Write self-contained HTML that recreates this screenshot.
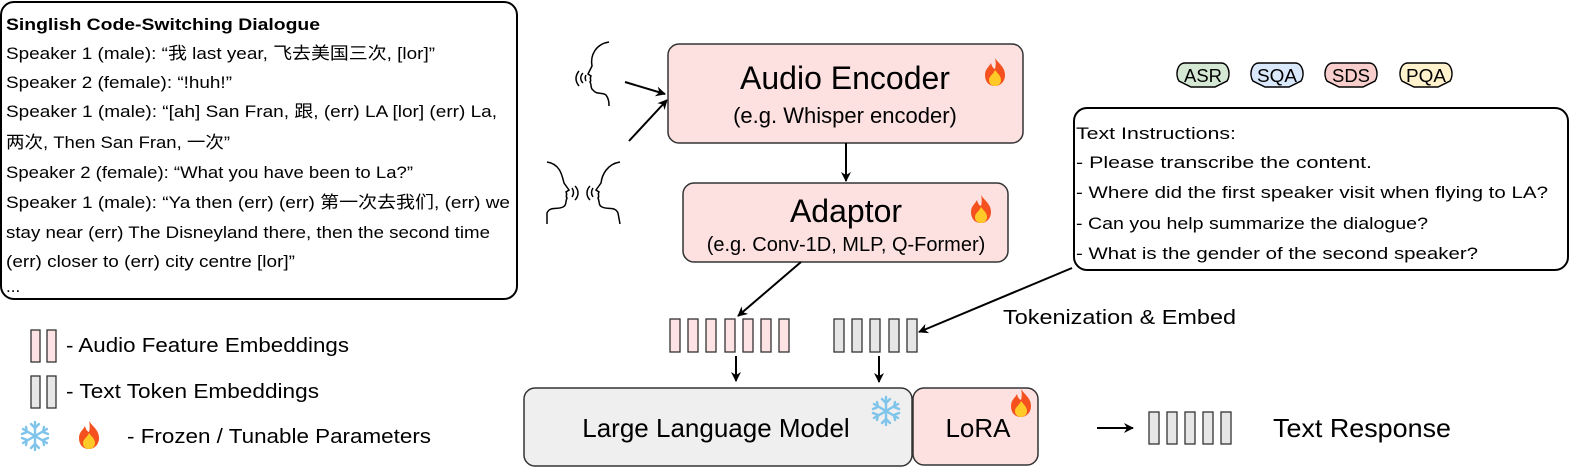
<!DOCTYPE html>
<html><head><meta charset="utf-8"><style>
html,body{margin:0;padding:0;background:#fff;}
svg text{font-family:"Liberation Sans","Noto Sans CJK SC",sans-serif;fill:#000;}
</style></head><body>
<svg width="1578" height="469" viewBox="0 0 1578 469" xmlns="http://www.w3.org/2000/svg">
<defs>
<marker id="ah" markerWidth="10" markerHeight="10" refX="9" refY="5" orient="auto" markerUnits="userSpaceOnUse" viewBox="0 0 10 10"><path d="M0,0 L10,5 L0,10 L3,5 z" fill="#000"/></marker>
<g id="fire"><path d="M0,-14 C4,-8 10,-5 10,3 C10,10 5,14 0,14 C-6,14 -10,10 -10,3 C-10,-3 -6,-5 -4,-9 C-3,-5 -2,-4 0,-3 C1,-7 1,-10 0,-14z" fill="#f4511e"/><path d="M0,-2 C3,2 6,4 6,8 C6,12 3,14 0,14 C-3,14 -6,12 -6,8 C-6,4 -2,3 0,-2z" fill="#ffca28"/></g>
<g id="snow" stroke="#7fc4ea" stroke-width="2.4" stroke-linecap="round" fill="none"><path d="M0,-14V14M-12,-7L12,7M-12,7L12,-7M-4,-12L0,-8L4,-12M-4,12L0,8L4,12M-13,-2L-8,-4L-9,-9M13,2L8,4L9,9M-13,2L-8,4L-9,9M13,-2L8,-4L9,-9"/></g>
<g id="badge"><path d="M-18,-12 H18 C26,-12 28,0 24,6 L12,12 H-12 L-24,6 C-28,0 -26,-12 -18,-12z" stroke="#000" stroke-width="1.5"/></g>
</defs>

<!-- dialogue box -->
<rect x="1" y="2" width="516" height="297" rx="13" fill="#fff" stroke="#000" stroke-width="2"/>
<g font-size="17">
<text x="6" y="30" font-weight="bold" textLength="314" lengthAdjust="spacingAndGlyphs">Singlish Code-Switching Dialogue</text>
<text x="6" y="59" textLength="429" lengthAdjust="spacingAndGlyphs">Speaker 1 (male): “我 last year, 飞去美国三次, [lor]”</text>
<text x="6" y="88" textLength="226" lengthAdjust="spacingAndGlyphs">Speaker 2 (female): “!huh!”</text>
<text x="6" y="117" textLength="491" lengthAdjust="spacingAndGlyphs">Speaker 1 (male): “[ah] San Fran, 跟, (err) LA [lor] (err) La,</text>
<text x="6" y="148" textLength="224" lengthAdjust="spacingAndGlyphs">两次, Then San Fran, 一次”</text>
<text x="6" y="178" textLength="407" lengthAdjust="spacingAndGlyphs">Speaker 2 (female): “What you have been to La?”</text>
<text x="6" y="208" textLength="504" lengthAdjust="spacingAndGlyphs">Speaker 1 (male): “Ya then (err) (err) 第一次去我们, (err) we</text>
<text x="6" y="238" textLength="484" lengthAdjust="spacingAndGlyphs">stay near (err) The Disneyland there, then the second time</text>
<text x="6" y="267" textLength="289" lengthAdjust="spacingAndGlyphs">(err) closer to (err) city centre [lor]”</text>
<text x="6" y="292">...</text>
</g>

<!-- legend -->
<g stroke="#333" stroke-width="1.3">
<rect x="31" y="330" width="9" height="32" fill="#fde3e3"/><rect x="47" y="330" width="9" height="32" fill="#fde3e3"/>
<rect x="31" y="376" width="9" height="32" fill="#e6e6e6"/><rect x="47" y="376" width="9" height="32" fill="#e6e6e6"/>
</g>
<g font-size="20">
<text x="66" y="352" textLength="283" lengthAdjust="spacingAndGlyphs">- Audio Feature Embeddings</text>
<text x="66" y="398" textLength="253" lengthAdjust="spacingAndGlyphs">- Text Token Embeddings</text>
<text x="127" y="443" textLength="304" lengthAdjust="spacingAndGlyphs">- Frozen / Tunable Parameters</text>
</g>
<use href="#snow" transform="translate(35,436)"/>
<use href="#fire" transform="translate(89,435)"/>

<!-- speakers -->
<g stroke="#000" stroke-width="1.5" fill="none">
<path d="M609,42 C596,44 590,55 592,66 L588,74 L591,76 C589,79 592,80 590,82 C592,85 590,88 593,90 C596,95 603,92 606,95 C609,99 609,103 609,106"/>
<path d="M583,73 C580,76 580,80 583,83 M579,71 C575,76 575,81 579,86 M586,75 C585,77 585,79 586,81"/>
<path d="M547,162 C560,164 562,175 564,183 L569,190 L566,192 C568,195 565,196 567,198 C565,202 567,205 563,207 C557,210 550,206 547,213 L547,224"/>
<path d="M572,188 C574,191 574,194 572,197 M575,186 C579,190 579,196 575,200"/>
<path d="M620,162 C607,164 602,175 601,183 L596,190 L599,192 C597,195 600,196 598,198 C600,202 598,205 602,207 C608,210 615,206 618,213 L620,224"/>
<path d="M593,188 C591,191 591,194 593,197 M590,186 C586,190 586,196 590,200"/>
</g>
<g stroke="#000" stroke-width="2" fill="none">
<line x1="625" y1="82" x2="665" y2="94" marker-end="url(#ah)"/>
<line x1="629" y1="141" x2="667" y2="100" marker-end="url(#ah)"/>
</g>

<!-- audio encoder -->
<rect x="668" y="44" width="355" height="99" rx="11" fill="#fde1e1" stroke="#333" stroke-width="1.5"/>
<text x="845" y="89" font-size="32" text-anchor="middle">Audio Encoder</text>
<text x="845" y="123" font-size="22" text-anchor="middle">(e.g. Whisper encoder)</text>
<use href="#fire" transform="translate(995,72)"/>
<line x1="846" y1="143" x2="846" y2="181" stroke="#000" stroke-width="2" marker-end="url(#ah)"/>

<!-- adaptor -->
<rect x="683" y="183" width="325" height="79" rx="11" fill="#fde1e1" stroke="#333" stroke-width="1.5"/>
<text x="846" y="222" font-size="32" text-anchor="middle">Adaptor</text>
<text x="846" y="251" font-size="20" text-anchor="middle">(e.g. Conv-1D, MLP, Q-Former)</text>
<use href="#fire" transform="translate(981,209)"/>

<!-- embeddings -->
<g stroke="#333" stroke-width="1.3" fill="#fde3e3">
<rect x="670" y="319" width="10" height="33"/><rect x="688" y="319" width="10" height="33"/><rect x="706" y="319" width="10" height="33"/><rect x="725" y="319" width="10" height="33"/><rect x="743" y="319" width="10" height="33"/><rect x="761" y="319" width="10" height="33"/><rect x="779" y="319" width="10" height="33"/>
</g>
<g stroke="#333" stroke-width="1.3" fill="#e6e6e6">
<rect x="834" y="319" width="10" height="33"/><rect x="852" y="319" width="10" height="33"/><rect x="870" y="319" width="10" height="33"/><rect x="889" y="319" width="10" height="33"/><rect x="907" y="319" width="10" height="33"/>
</g>
<g stroke="#000" stroke-width="2" fill="none">
<line x1="801" y1="262" x2="738" y2="316" marker-end="url(#ah)"/>
<line x1="1072" y1="268" x2="919" y2="332" marker-end="url(#ah)"/>
<line x1="736" y1="356" x2="736" y2="381" marker-end="url(#ah)"/>
<line x1="879" y1="356" x2="879" y2="382" marker-end="url(#ah)"/>
</g>
<text x="1003" y="324" font-size="20" textLength="233" lengthAdjust="spacingAndGlyphs">Tokenization &amp; Embed</text>

<!-- LLM -->
<rect x="524" y="388" width="388" height="78" rx="11" fill="#efefef" stroke="#333" stroke-width="1.5"/>
<text x="716" y="437" font-size="26" text-anchor="middle">Large Language Model</text>
<use href="#snow" transform="translate(886,411)"/>
<rect x="913" y="388" width="125" height="77" rx="11" fill="#fde1e1" stroke="#333" stroke-width="1.5"/>
<text x="978" y="437" font-size="26" text-anchor="middle">LoRA</text>
<use href="#fire" transform="translate(1021,403)"/>

<!-- badges -->
<g font-size="18" text-anchor="middle">
<use href="#badge" transform="translate(1203,75)" fill="#d5e8d4"/><text x="1203" y="82" textLength="38" lengthAdjust="spacingAndGlyphs">ASR</text>
<use href="#badge" transform="translate(1277,75)" fill="#dae8fc"/><text x="1277" y="82" textLength="40" lengthAdjust="spacingAndGlyphs">SQA</text>
<use href="#badge" transform="translate(1351,75)" fill="#f8cecc"/><text x="1351" y="82" textLength="38" lengthAdjust="spacingAndGlyphs">SDS</text>
<use href="#badge" transform="translate(1426,75)" fill="#fff2cc"/><text x="1426" y="82" textLength="40" lengthAdjust="spacingAndGlyphs">PQA</text>
</g>

<!-- instructions -->
<rect x="1074" y="108" width="494" height="162" rx="13" fill="#fff" stroke="#000" stroke-width="2"/>
<g font-size="17">
<text x="1076" y="139" textLength="160" lengthAdjust="spacingAndGlyphs">Text Instructions:</text>
<text x="1076" y="168" textLength="296" lengthAdjust="spacingAndGlyphs">- Please transcribe the content.</text>
<text x="1076" y="198" textLength="472" lengthAdjust="spacingAndGlyphs">- Where did the first speaker visit when flying to LA?</text>
<text x="1076" y="229" textLength="352" lengthAdjust="spacingAndGlyphs">- Can you help summarize the dialogue?</text>
<text x="1076" y="259" textLength="402" lengthAdjust="spacingAndGlyphs">- What is the gender of the second speaker?</text>
</g>

<!-- output -->
<line x1="1097" y1="428" x2="1133" y2="428" stroke="#000" stroke-width="2" marker-end="url(#ah)"/>
<g stroke="#333" stroke-width="1.3" fill="#e6e6e6">
<rect x="1149" y="412" width="10" height="32"/><rect x="1167" y="412" width="10" height="32"/><rect x="1185" y="412" width="10" height="32"/><rect x="1203" y="412" width="10" height="32"/><rect x="1221" y="412" width="10" height="32"/>
</g>
<text x="1273" y="437" font-size="26" textLength="178" lengthAdjust="spacingAndGlyphs">Text Response</text>
</svg>
</body></html>
